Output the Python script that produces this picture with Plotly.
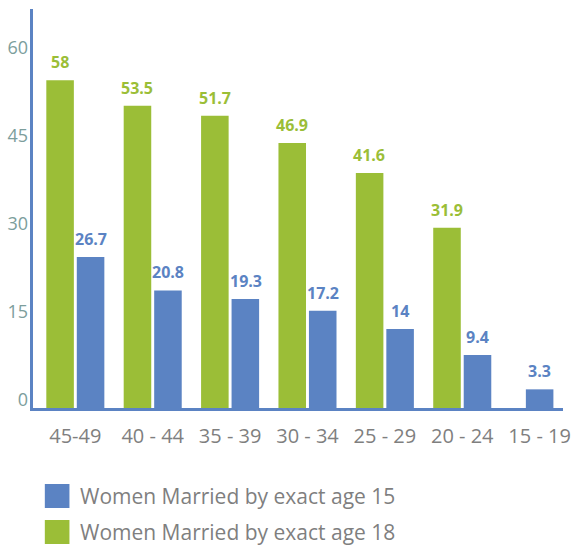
import plotly.graph_objects as go

categories = ["45-49", "40 - 44", "35 - 39", "30 - 34", "25 - 29", "20 - 24", "15 - 19"]
married_by_15 = [26.7, 20.8, 19.3, 17.2, 14, 9.4, 3.3]
married_by_18 = [58, 53.5, 51.7, 46.9, 41.6, 31.9, None]
series_names = ["Women Married by exact age 15", "Women Married by exact age 18"]
y_tick_values = [0, 15, 30, 45, 60]

GREEN = "#9bbe37"
BLUE = "#5b83c3"
TICK_Y = "#7c9e9c"
GRAY = "#7f7f7f"

# geometry (category units)
X_RANGE = [-0.547, 6.302]
PLOT_W_PX = 538
cat_px = PLOT_W_PX / (X_RANGE[1] - X_RANGE[0])
BAR_W = 0.356
HALF_GAP = 0.019

green_offsets = [-(BAR_W + HALF_GAP)] * len(categories)
blue_offsets = [HALF_GAP if g is not None else -BAR_W / 2 for g in married_by_18]

fig = go.Figure()
fig.add_trace(go.Bar(x=categories, y=married_by_18, name=series_names[1],
                     width=BAR_W, offset=green_offsets,
                     marker=dict(color=GREEN, line=dict(width=0)), showlegend=False))
fig.add_trace(go.Bar(x=categories, y=married_by_15, name=series_names[0],
                     width=BAR_W, offset=blue_offsets,
                     marker=dict(color=BLUE, line=dict(width=0)), showlegend=False))
# invisible trace to carry the labelled value axis
fig.add_trace(go.Scatter(x=[categories[0]], y=[0], yaxis="y2", mode="markers",
                         marker=dict(opacity=0), showlegend=False, hoverinfo="skip"))

# value labels above bars
for c, v, o in zip(categories, married_by_18, green_offsets):
    if v is not None:
        fig.add_annotation(x=c, y=v, text=f"<b>{v:g}</b>", showarrow=False,
                           xshift=(o + BAR_W / 2) * cat_px, yshift=5, yanchor="bottom",
                           font=dict(color=GREEN, size=16, family="Open Sans"))
for c, v, o in zip(categories, married_by_15, blue_offsets):
    fig.add_annotation(x=c, y=v, text=f"<b>{v:g}</b>", showarrow=False,
                       xshift=(o + BAR_W / 2) * cat_px, yshift=5, yanchor="bottom",
                       font=dict(color=BLUE, size=16, family="Open Sans"))

# manual legend
legend_rows = [(series_names[0], BLUE, 496), (series_names[1], GREEN, 532)]
for name, col, cy in legend_rows:
    y0 = (408 - (cy + 12)) / 399
    y1 = (408 - (cy - 12)) / 399
    fig.add_shape(type="rect", xref="paper", yref="paper",
                  x0=12 / PLOT_W_PX, x1=37 / PLOT_W_PX, y0=y0, y1=y1,
                  fillcolor=col, line=dict(width=0))
    fig.add_annotation(xref="paper", yref="paper", x=46 / PLOT_W_PX, y=(408 - cy) / 399,
                       text=name, showarrow=False, xanchor="left", yanchor="middle",
                       font=dict(color=GRAY, size=21, family="Open Sans"))

fig.update_layout(
    width=571, height=545,
    margin=dict(l=33, r=0, t=9, b=137),
    paper_bgcolor="white", plot_bgcolor="white",
    barmode="overlay",
    font=dict(family="Open Sans"),
    xaxis=dict(type="category", categoryorder="array", categoryarray=categories,
               range=X_RANGE, showline=True, linecolor=BLUE, linewidth=3,
               showgrid=False, ticks="", tickfont=dict(color=GRAY, size=20),
               ticklabelstandoff=8),
    yaxis=dict(range=[0, 70.6], showline=True, linecolor=BLUE, linewidth=3,
               showgrid=False, zeroline=False, showticklabels=False, ticks=""),
    yaxis2=dict(overlaying="y", side="left", range=[-1.36, 66.65],
                tickvals=y_tick_values, showgrid=False, zeroline=False,
                showline=False, ticks="", tickfont=dict(color=TICK_Y, size=18),
                ticklabelstandoff=4),
)

fig.write_html("out.html", config={"displayModeBar": False},
               post_script="document.body.style.margin='0';document.body.style.overflow='hidden';")
